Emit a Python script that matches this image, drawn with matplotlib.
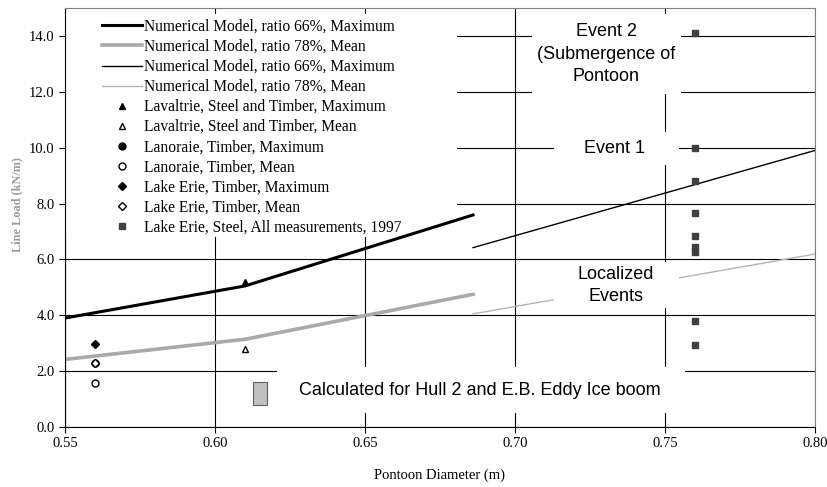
import matplotlib

matplotlib.use("Agg")
import matplotlib.pyplot as plt  # noqa: E402
from matplotlib.patches import Rectangle  # noqa: E402

plt.rcParams["font.family"] = ["Liberation Serif", "DejaVu Serif"]

# numerical model curves (diameter m, line load kN/m)
model66_max_x = [0.55, 0.61, 0.686]
model66_max_y = [3.90, 5.05, 7.59]
model78_mean_x = [0.55, 0.61, 0.686]
model78_mean_y = [2.42, 3.14, 4.75]
model66_max2_x = [0.686, 0.80]
model66_max2_y = [6.42, 9.90]
model78_mean2_x = [0.686, 0.80]
model78_mean2_y = [4.05, 6.19]

# field measurements
lavaltrie_max = ([0.61], [5.20])
lavaltrie_mean = ([0.61], [2.78])
lanoraie_max = ([0.56], [2.30])
lanoraie_mean = ([0.56], [1.58])
erie_timber_max = ([0.56], [2.98])
erie_timber_mean = ([0.56], [2.30])
erie_steel_y = [14.12, 9.97, 8.81, 7.65, 6.85, 6.45, 6.25, 3.81, 2.93]
erie_steel_x = [0.76] * len(erie_steel_y)

# calculated range for Hull 2 / E.B. Eddy boom
calc_x = 0.615
calc_low, calc_high = 0.80, 1.60

fig = plt.figure(figsize=(8.28, 4.87), dpi=100)
ax = fig.add_axes([0.0785, 0.1232, 0.9058, 0.8604])
ax.set_axisbelow(True)

ax.plot(model66_max_x, model66_max_y, color="black", lw=2.2, zorder=2,
        label="Numerical Model, ratio 66%, Maximum")
ax.plot(model78_mean_x, model78_mean_y, color="#a9a9a9", lw=2.6, zorder=2,
        label="Numerical Model, ratio 78%, Mean")
ax.plot(model66_max2_x, model66_max2_y, color="black", lw=1.0, zorder=2,
        label="Numerical Model, ratio 66%, Maximum")
ax.plot(model78_mean2_x, model78_mean2_y, color="#b4b4b4", lw=1.0, zorder=2,
        label="Numerical Model, ratio 78%, Mean")

ax.bar([calc_x], [calc_high - calc_low], bottom=[calc_low], width=0.0045,
       color="#c0c0c0", edgecolor="#606060", lw=0.8, zorder=2)

# white boxes hiding the grid behind annotations and legend
boxes = [
    (0.7057, 11.92, 0.0496, 2.85),
    (0.7130, 9.38, 0.0417, 1.18),
    (0.7130, 4.26, 0.0417, 1.65),
    (0.6207, 0.50, 0.1360, 1.65),
]
for bx, by, bw, bh in boxes:
    ax.add_patch(Rectangle((bx, by), bw, bh, facecolor="white", edgecolor="none", zorder=3))
ax.add_patch(Rectangle((0.0, 0.453), 0.523, 0.533, transform=ax.transAxes,
                       facecolor="white", edgecolor="none", zorder=1.8))

sans = ["Liberation Sans", "DejaVu Sans"]
ax.text(0.7305, 13.35, "Event 2\n(Submergence of\nPontoon", ha="center", va="center",
        fontsize=13, family=sans, linespacing=1.4, zorder=4)
ax.text(0.7333, 9.96, "Event 1", ha="center", va="center", fontsize=13, family=sans, zorder=4)
ax.text(0.7337, 5.06, "Localized\nEvents", ha="center", va="center", fontsize=13,
        family=sans, linespacing=1.4, zorder=4)
ax.text(0.6883, 1.30, "Calculated for Hull 2 and E.B. Eddy Ice boom", ha="center",
        va="center", fontsize=13, family=sans, zorder=4)

ms = 5
ax.plot(*lavaltrie_max, ls="none", marker="^", color="black", ms=ms, zorder=5,
        label="Lavaltrie, Steel and Timber, Maximum")
ax.plot(*lavaltrie_mean, ls="none", marker="^", mfc="white", mec="black", ms=ms, zorder=5,
        label="Lavaltrie, Steel and Timber, Mean")
ax.plot(*lanoraie_max, ls="none", marker="o", color="black", ms=ms, zorder=5,
        label="Lanoraie, Timber, Maximum")
ax.plot(*lanoraie_mean, ls="none", marker="o", mfc="white", mec="black", ms=ms, zorder=5,
        label="Lanoraie, Timber, Mean")
ax.plot(*erie_timber_max, ls="none", marker="D", color="black", ms=ms - 0.8, zorder=5,
        label="Lake Erie, Timber, Maximum")
ax.plot(*erie_timber_mean, ls="none", marker="D", mfc="white", mec="black", ms=ms - 0.8,
        zorder=6, label="Lake Erie, Timber, Mean")
ax.plot(erie_steel_x, erie_steel_y, ls="none", marker="s", color="#404040", ms=ms, zorder=5,
        label="Lake Erie, Steel, All measurements, 1997")

ax.set_xlim(0.55, 0.80)
ax.set_ylim(0, 15)
ax.set_xticks([0.55, 0.60, 0.65, 0.70, 0.75, 0.80])
ax.set_xticklabels([f"{v:.2f}" for v in ax.get_xticks()])
ax.set_yticks([0, 2, 4, 6, 8, 10, 12, 14])
ax.set_yticklabels([f"{v:.1f}" for v in ax.get_yticks()])
ax.tick_params(labelsize=10.5, length=4, width=0.8, color="black")
ax.grid(True, color="black", lw=0.8)

for side in ("top", "right"):
    ax.spines[side].set_color("#808080")
for side in ("left", "bottom"):
    ax.spines[side].set_color("black")

ax.set_xlabel("Pontoon Diameter (m)", fontsize=10.5, labelpad=13)
ax.set_ylabel("Line Load (kN/m)", fontsize=8.8, color="#9a9a9a", weight="bold")
ax.yaxis.set_label_coords(-0.055, 0.53)

leg = ax.legend(loc="upper left", bbox_to_anchor=(0.049, 0.974), fontsize=11.2,
                frameon=False, handlelength=2.6, handletextpad=0.13, labelspacing=0.26,
                borderaxespad=0, borderpad=0, numpoints=1)
leg.set_zorder(7)

fig.savefig("out.png", dpi=100)
